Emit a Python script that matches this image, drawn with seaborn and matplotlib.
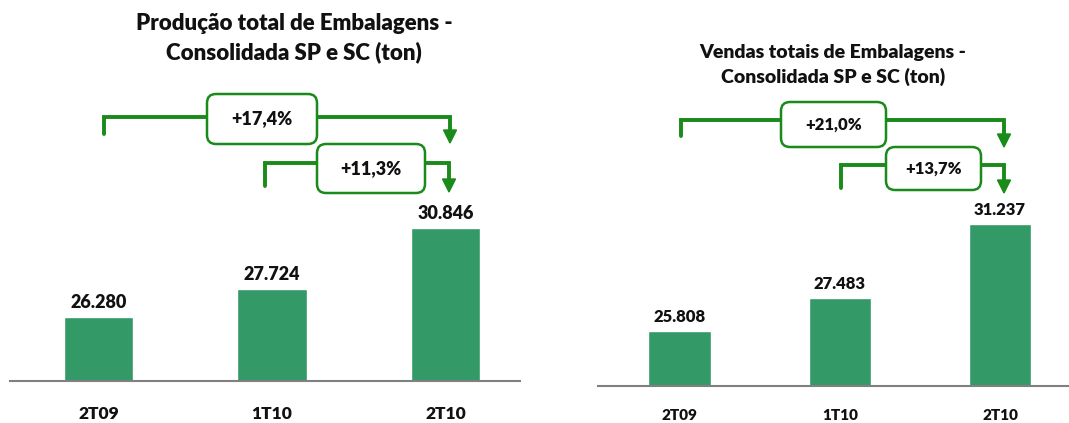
# ==========================================================
# Produção / Vendas de Embalagens - 2T09, 1T10, 2T10
# ==========================================================

import matplotlib
matplotlib.use("Agg")

import matplotlib.pyplot as plt
from matplotlib.lines import Line2D
from matplotlib.patches import FancyBboxPatch, Polygon
import seaborn as sns
import pandas as pd

# ==========================================================
# Dados
# ==========================================================

periodos = ["2T09", "1T10", "2T10"]

producao = [26280, 27724, 30846]
vendas = [25808, 27483, 31237]

producao_labels = ["26.280", "27.724", "30.846"]
vendas_labels = ["25.808", "27.483", "31.237"]

producao_var = ["+17,4%", "+11,3%"]
vendas_var = ["+21,0%", "+13,7%"]

titulo_producao = "Produção total de Embalagens -\nConsolidada SP e SC (ton)"
titulo_vendas = "Vendas totais de Embalagens -\nConsolidada SP e SC (ton)"

BAR_COLOR = "#339966"
LINE_COLOR = "#1a8a1a"
TXT = "#111111"
Y_MIN = 23000

sns.set_style("white")
plt.rcParams["font.family"] = ["Lato", "DejaVu Sans"]

W, H = 1069, 423
fig = plt.figure(figsize=(W / 100, H / 100), dpi=100)


def px(x, y):
    # pixel (top-left origin) -> inches
    return x / 100, (H - y) / 100


def painel(rect_px, base_px, ppk, valores, rotulos, width, fs_val, fs_cat,
           y_cat):
    x0, x1 = rect_px
    ax = fig.add_axes([x0 / W, (H - base_px) / H, (x1 - x0) / W, base_px / H])
    df = pd.DataFrame({"periodo": periodos, "valor": valores})
    sns.barplot(data=df, x="periodo", y="valor", color=BAR_COLOR,
                width=width, saturation=1, ax=ax)
    ax.set_ylim(Y_MIN, Y_MIN + base_px / ppk * 1000)
    ax.set_xlim(-0.51, 2.43)
    for i, (v, lab) in enumerate(zip(valores, rotulos)):
        ax.annotate(lab, (i, v), xytext=(0, 4), textcoords="offset points",
                    ha="center", va="bottom", fontsize=fs_val,
                    fontweight="heavy", color=TXT)
    sns.despine(ax=ax, left=True)
    ax.spines["bottom"].set_color("#808080")
    ax.spines["bottom"].set_linewidth(1.5)
    ax.set_yticks([])
    ax.set_xlabel("")
    ax.set_ylabel("")
    ax.tick_params(axis="x", length=0, pad=0)
    ax.set_xticklabels([])
    # rotulos das categorias abaixo do eixo
    for i, p in enumerate(periodos):
        ax.annotate(p, (i, Y_MIN), xytext=(0, -(y_cat - base_px) * 0.72),
                    textcoords="offset points", ha="center", va="center",
                    fontsize=fs_cat, fontweight="heavy", color=TXT)
    return ax


def colchete(x_ini, y_ini, y_lin, x_fim, y_tip, caixa, texto, fs):
    pts = [px(x_ini, y_ini), px(x_ini, y_lin), px(x_fim, y_lin),
           px(x_fim, y_tip - 12)]
    xs, ys = zip(*pts)
    fig.add_artist(Line2D(xs, ys, transform=fig.dpi_scale_trans,
                          color=LINE_COLOR, lw=2.8, solid_joinstyle="miter",
                          zorder=2))
    tri = [px(x_fim - 6.5, y_tip - 13), px(x_fim + 6.5, y_tip - 13),
           px(x_fim, y_tip)]
    fig.add_artist(Polygon(tri, closed=True, transform=fig.dpi_scale_trans,
                           color=LINE_COLOR, zorder=2))
    bx0, by0, bx1, by1 = caixa
    xa, ya = px(bx0, by1)
    fig.add_artist(FancyBboxPatch((xa, ya), (bx1 - bx0) / 100,
                                  (by1 - by0) / 100,
                                  boxstyle="round,pad=0,rounding_size=0.09",
                                  transform=fig.dpi_scale_trans,
                                  fc="white", ec=LINE_COLOR, lw=1.8,
                                  zorder=3))
    tx, ty = px((bx0 + bx1) / 2, (by0 + by1) / 2)
    fig.text(tx, ty, texto, transform=fig.dpi_scale_trans, ha="center",
             va="center", fontsize=fs, fontweight="heavy", color=TXT,
             zorder=4)


# ==========================================================
# Painel esquerdo - Produção
# ==========================================================

painel((10, 520), 381, 19.5, producao, producao_labels, 0.40, 13, 12.5, 414)

fig.text(294 / W, 1 - 38 / H, titulo_producao, ha="center", va="center",
         fontsize=16, fontweight="heavy", color=TXT, linespacing=1.4)

colchete(104, 134, 117, 450, 143, (207, 94, 317, 144), producao_var[0], 13)
colchete(265, 186, 163, 449, 192, (317, 144, 425, 193), producao_var[1], 13)

# ==========================================================
# Painel direito - Vendas
# ==========================================================

painel((598, 1069), 386, 19.7, vendas, vendas_labels, 0.39, 12, 11, 415)

fig.text(833 / W, 1 - 65 / H, titulo_vendas, ha="center", va="center",
         fontsize=14, fontweight="heavy", color=TXT, linespacing=1.4)

colchete(681, 136, 120, 1004, 147, (781, 102, 886, 147), vendas_var[0], 12)
colchete(841, 188, 165, 1004, 193, (886, 147, 981, 190), vendas_var[1], 12)

fig.savefig("out.png", dpi=100)
